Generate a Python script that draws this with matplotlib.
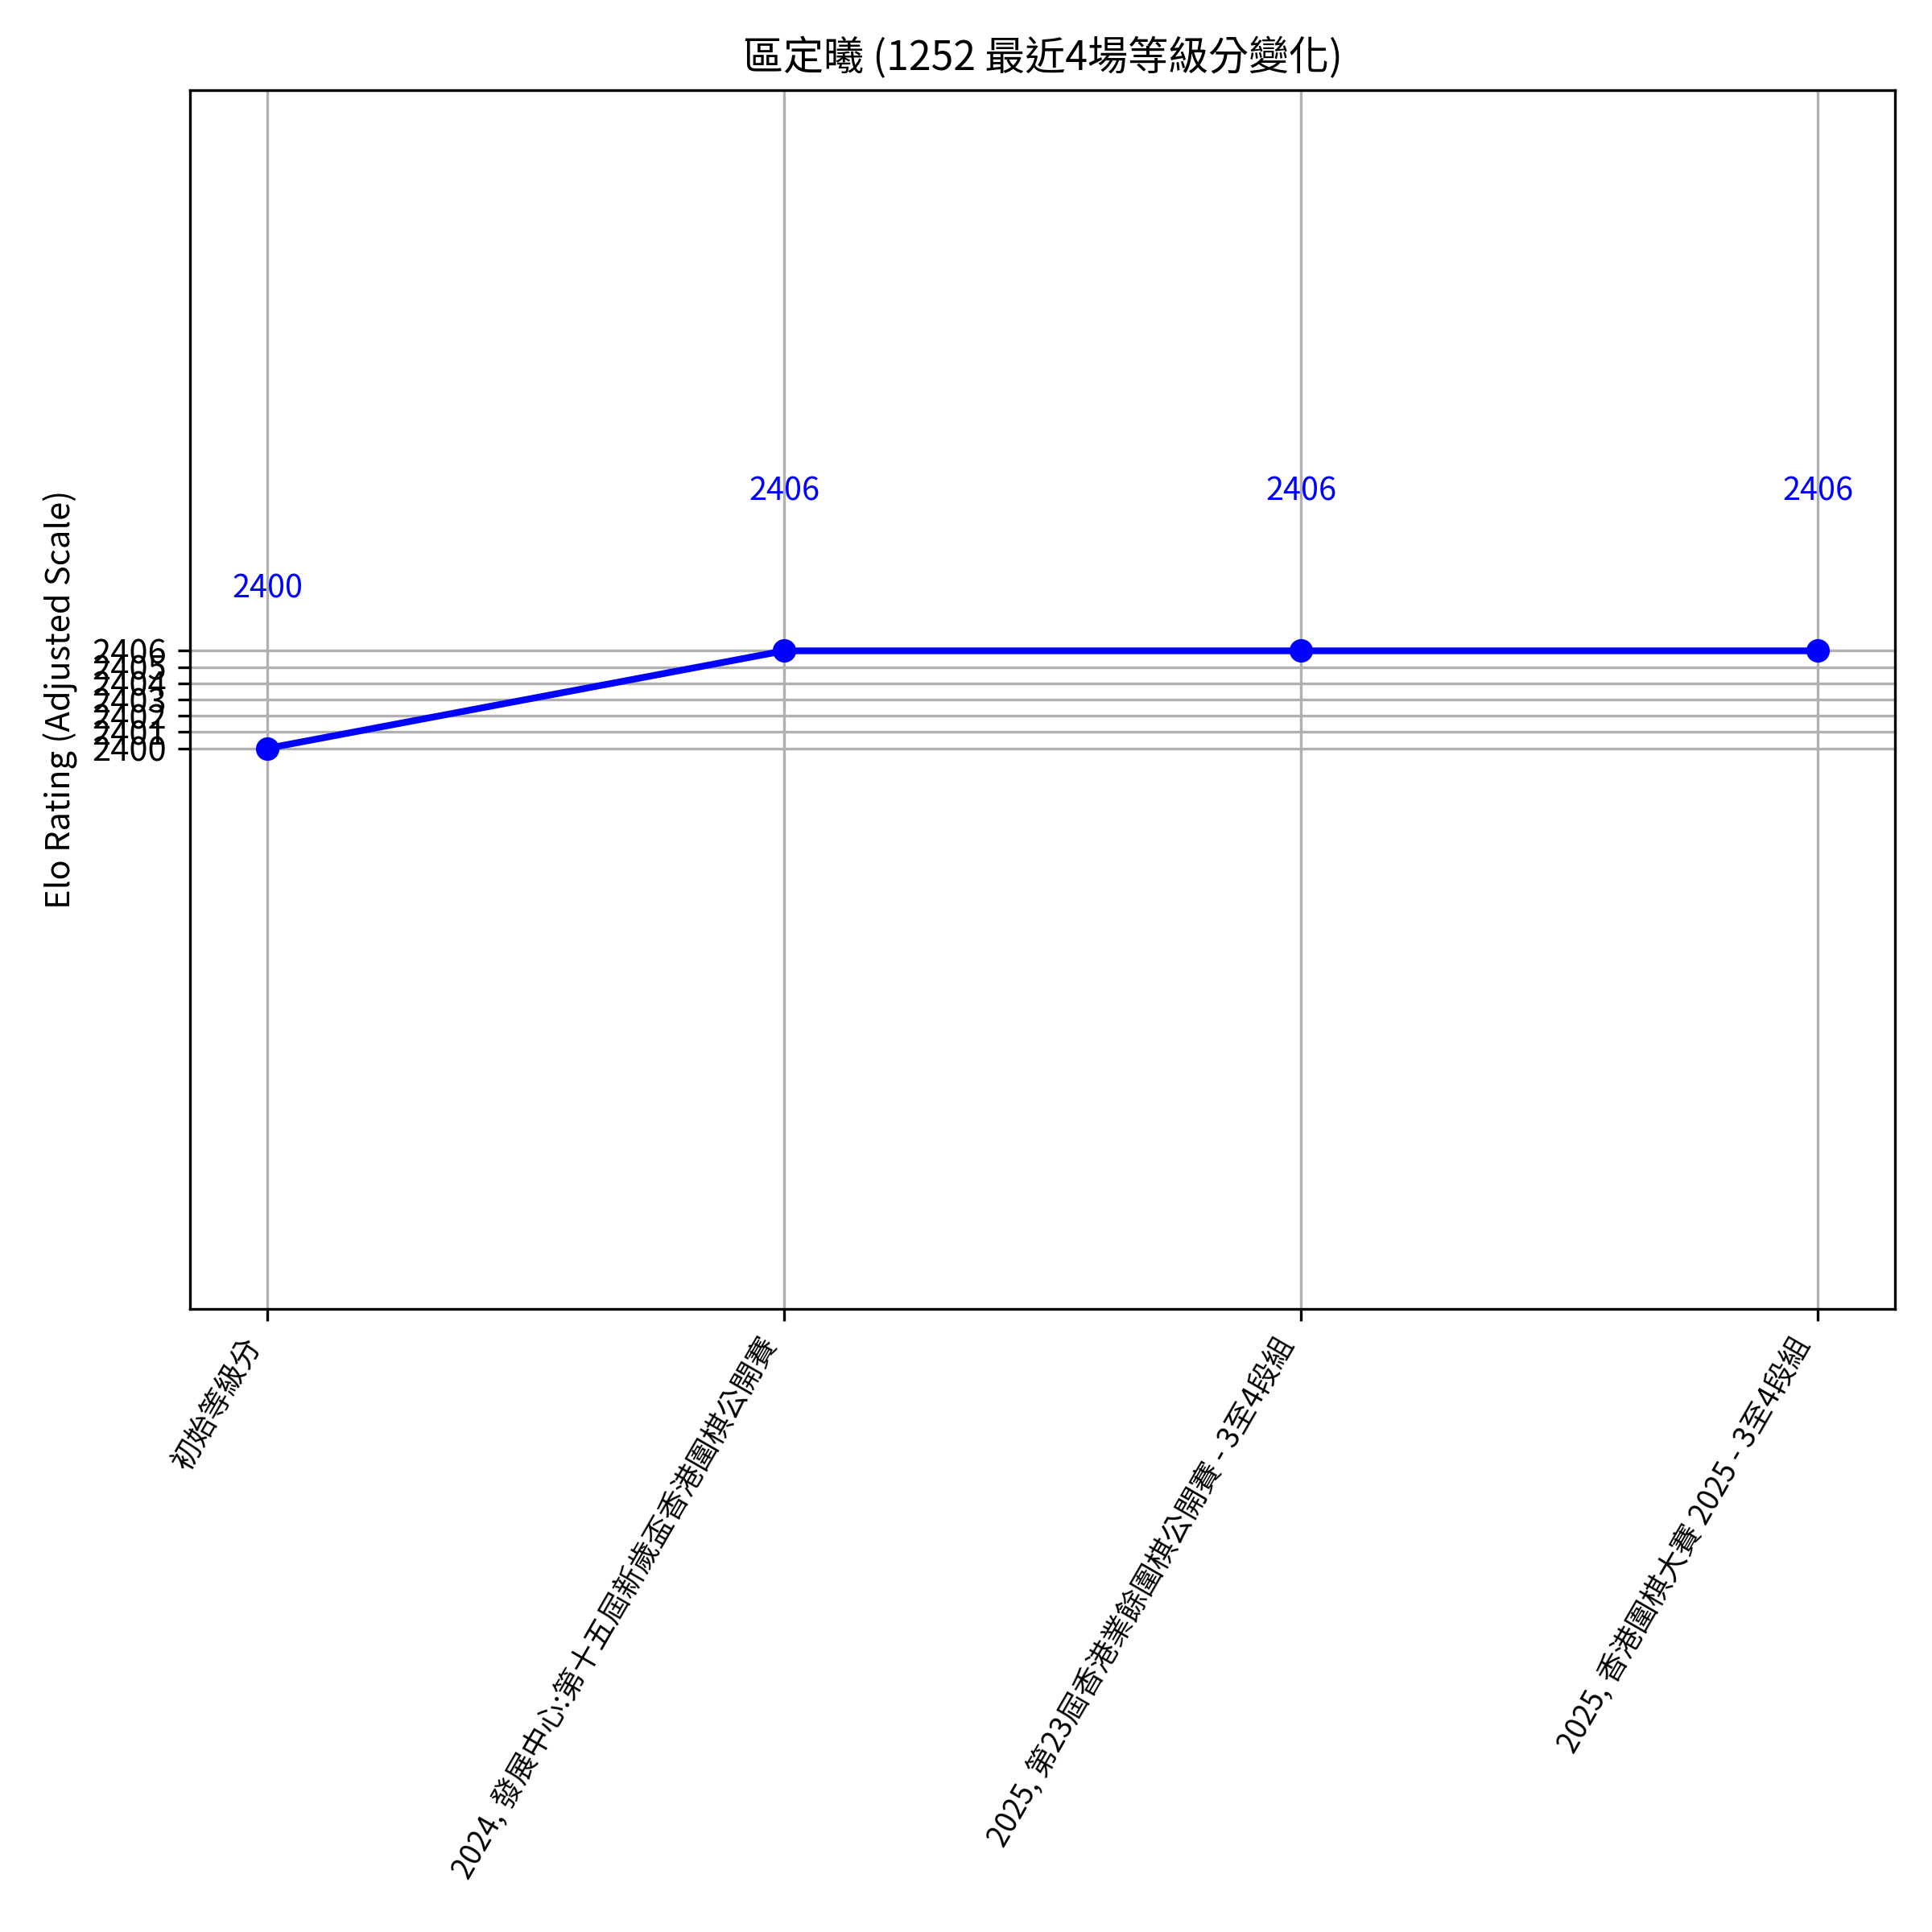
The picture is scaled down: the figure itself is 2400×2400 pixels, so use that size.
import matplotlib
matplotlib.use("Agg")
import matplotlib.pyplot as plt

plt.rcParams['font.family'] = ['Noto Sans CJK TC', 'DejaVu Sans']

# data
events = ["初始等級分",
          "2024, 發展中心:第十五屆新歲盃香港圍棋公開賽",
          "2025, 第23屆香港業餘圍棋公開賽 - 3至4段組",
          "2025, 香港圍棋大賽 2025 - 3至4段組"]
ratings = [2400, 2406, 2406, 2406]
ytick_values = [2400, 2401, 2402, 2403, 2404, 2405, 2406]
y_limits = (2365.5, 2440.5)

fig, ax = plt.subplots(figsize=(8, 8), dpi=300)
fig.subplots_adjust(left=0.0983, right=0.981, top=0.9533, bottom=0.3225)

x = list(range(len(events)))
ax.plot(x, ratings, marker='o', color='blue', linewidth=2)

for i, r in zip(x, ratings):
    ax.text(i, r + 9.8, str(r), color='blue', ha='center', va='center',
            fontsize=9.5)

ax.set_xticks(x)
# Noto is wider than the original font, so shrink a bit to keep labels on the page
ax.set_xticklabels(events, rotation=60, ha='right', fontsize=8.8)
ax.set_yticks(ytick_values)
ax.set_ylim(*y_limits)
ax.grid(True)
ax.set_ylabel("Elo Rating (Adjusted Scale)")
ax.set_title("區定曦 (1252 最近4場等級分變化)")

plt.savefig("out.png", dpi=300)
